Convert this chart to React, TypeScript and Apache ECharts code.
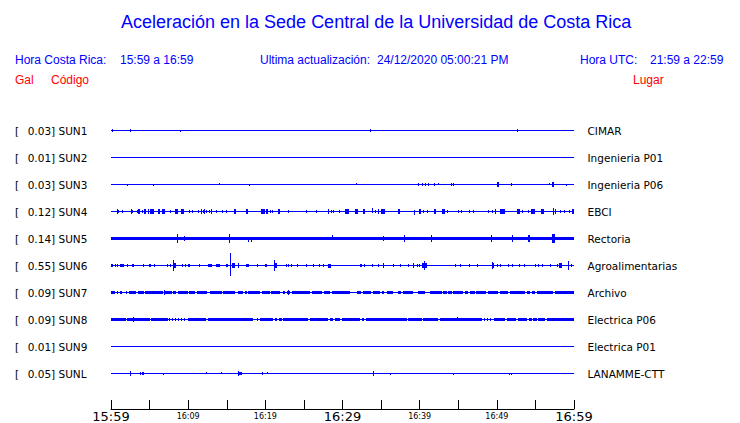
import React, { useEffect, useRef } from 'react';
import * as echarts from 'echarts';

// Stations (top to bottom)
const CODES = ['SUN1', 'SUN2', 'SUN3', 'SUN4', 'SUN5', 'SUN6', 'SUN7', 'SUN8', 'SUN9', 'SUNL'];
const MAX_GAL = ['0.03', '0.01', '0.03', '0.12', '0.14', '0.55', '0.09', '0.09', '0.01', '0.05'];
const PLACES = ['CIMAR', 'Ingenieria P01', 'Ingenieria P06', 'EBCI', 'Rectoria', 'Agroalimentarias', 'Archivo', 'Electrica P06', 'Electrica P01', 'LANAMME-CTT'];

// Time axis: minutes after 15:59
const TIME_MIN = 0;
const TIME_MAX = 60;
const TICK_STEP = 5;
const TICK_LABELS = ['15:59', '16:09', '16:19', '16:29', '16:39', '16:49', '16:59'];
const BIG_LABELS = ['15:59', '16:29', '16:59'];

// Events: [minute, duration(min), amplitude up, amplitude down] (amplitudes in trace spacings)
const SUN1_EVENTS = [[0.17, 0, 0.05, 0.05], [2.5, 0, 0.05, 0.05], [9.0, 0, 0, 0.04], [33.5, 0, 0.05, 0.05], [52.65, 0, 0.05, 0.05]];
const SUN2_EVENTS: number[][] = [];
const SUN3_EVENTS = [[2.1, 0, 0, 0.05], [5.5, 0, 0, 0.05], [14.0, 0, 0.05, 0], [17.9, 0, 0, 0.05], [31.7, 0, 0.05, 0], [39.8, 0, 0.05, 0.05], [40.3, 0, 0.05, 0.05], [40.7, 0, 0.05, 0.05], [41.1, 0, 0.05, 0.05], [41.8, 0, 0.05, 0.05], [42.4, 0, 0.05, 0], [44.0, 0, 0.05, 0.05], [44.3, 0, 0.05, 0.05], [50.0, 0.25, 0.06, 0.06], [51.8, 0, 0.05, 0.05], [56.7, 0, 0.05, 0], [57.2, 0.15, 0.06, 0.06], [59.0, 0, 0, 0.05]];
const SUN4_EVENTS = [[0.74, 0, 0.06, 0.06], [0.95, 0, 0.05, 0.05], [1.46, 0, 0.05, 0.05], [2.55, 0, 0.06, 0.06], [2.76, 0, 0.05, 0.05], [3.33, 0, 0.05, 0.05], [3.55, 0.2, 0.06, 0.06], [3.98, 0, 0.05, 0.05], [4.3, 0.25, 0.06, 0.06], [4.75, 0.2, 0.06, 0.06], [5.1, 0.45, 0.06, 0.06], [6.05, 0.3, 0.06, 0.06], [6.65, 0.35, 0.06, 0.06], [7.68, 0, 0.05, 0.05], [8.35, 0.3, 0.06, 0.06], [9.1, 0.3, 0.06, 0.06], [10.15, 0, 0.05, 0.05], [10.54, 0, 0.05, 0.05], [11.27, 0, 0.05, 0.05], [11.66, 0, 0.06, 0.06], [11.88, 0, 0.05, 0.05], [12.05, 0, 0.06, 0.06], [12.31, 0, 0.05, 0.05], [12.74, 0, 0.05, 0.05], [12.95, 0.2, 0.06, 0.06], [13.61, 0, 0.05, 0.05], [14.42, 0, 0.05, 0.05], [14.86, 0, 0.05, 0.05], [15.9, 0.35, 0.06, 0.06], [17.45, 0.3, 0.06, 0.06], [19.5, 0.45, 0.06, 0.06], [20.1, 0.2, 0.06, 0.06], [20.6, 0, 0.05, 0.05], [20.83, 0, 0.05, 0.05], [21.6, 0.35, 0.06, 0.06], [22.98, 0, 0.05, 0.05], [25.27, 0, 0.05, 0.05], [26.57, 0, 0.05, 0.05], [28.16, 0, 0.06, 0.06], [28.47, 0, 0.05, 0.05], [28.81, 0, 0.05, 0.05], [29.55, 0, 0.05, 0.05], [30.3, 0.5, 0.06, 0.06], [31.65, 0.35, 0.06, 0.06], [32.65, 0.3, 0.06, 0.06], [33.86, 0, 0.1, 0.05], [34.21, 0, 0.05, 0.05], [34.56, 0, 0.06, 0.06], [34.95, 0.55, 0.06, 0.06], [37.15, 0.35, 0.06, 0.06], [39.3, 0, 0.05, 0.1], [39.9, 0.3, 0.06, 0.06], [40.39, 0, 0.05, 0.05], [40.91, 0, 0.05, 0.05], [41.85, 0.3, 0.06, 0.06], [42.9, 0.35, 0.06, 0.06], [43.5, 0, 0.05, 0.05], [44.93, 0, 0.05, 0.05], [45.32, 0, 0.05, 0.05], [46.43, 0, 0.05, 0.05], [46.95, 0, 0.05, 0.05], [48.89, 0, 0.05, 0.05], [49.33, 0, 0.05, 0.05], [49.76, 0, 0.06, 0.06], [50.45, 0.55, 0.06, 0.06], [52.55, 0.45, 0.06, 0.06], [53.3, 0, 0.05, 0.05], [54.0, 0, 0.05, 0.05], [54.45, 0.55, 0.06, 0.06], [55.7, 0.35, 0.06, 0.06], [57.24, 0, 0.12, 0.12], [57.54, 0, 0.06, 0.06], [58.19, 0, 0.05, 0.05], [58.74, 0, 0.05, 0.05], [59.35, 0, 0.05, 0.05], [59.7, 0.3, 0.06, 0.06]];
const SUN5_EVENTS = [[8.59, 0, 0.13, 0.13], [9.46, 0, 0.08, 0.08], [15.33, 0, 0.13, 0.13], [17.79, 0, 0.05, 0.12], [18.14, 0, 0.05, 0.12], [28.6, 0, 0.11, 0.05], [35.29, 0, 0.09, 0.09], [38.0, 0, 0.12, 0.12], [41.45, 0.2, 0.12, 0.12], [49.28, 0, 0.1, 0.1], [51.92, 0, 0.12, 0.12], [54.1, 0.25, 0.12, 0.12], [57.2, 0.3, 0.15, 0.15]];
const SUN6_EVENTS = [[0, 0.22, 0.05, 0.05], [0.52, 0, 0.05, 0.05], [0.82, 0, 0.05, 0.05], [1.17, 0.5, 0.055, 0.055], [2.11, 0, 0.04, 0.04], [2.68, 0.3, 0.055, 0.055], [4.19, 0, 0.05, 0.05], [4.96, 0.18, 0.05, 0.05], [5.57, 0, 0.05, 0.05], [7.3, 0, 0.05, 0.05], [7.65, 0, 0.05, 0.05], [8.07, 0, 0.19, 0.19], [8.16, 0.26, 0.06, 0.06], [9.16, 0, 0.04, 0.04], [9.59, 0, 0.05, 0.05], [10.02, 0.26, 0.05, 0.05], [11.44, 0, 0.05, 0.05], [12.61, 0.52, 0.055, 0.055], [13.61, 0.56, 0.055, 0.055], [14.86, 0.26, 0.05, 0.05], [15.46, 0, 0.45, 0.38], [15.64, 0.43, 0.07, 0.07], [16.42, 0, 0.09, 0.09], [17.46, 0.47, 0.055, 0.055], [18.96, 0, 0.05, 0.05], [19.96, 0.22, 0.05, 0.05], [21.16, 0, 0.19, 0.19], [21.25, 0.3, 0.06, 0.06], [22.64, 0, 0.05, 0.05], [22.9, 0, 0.05, 0.05], [23.33, 0, 0.04, 0.04], [24.14, 0, 0.04, 0.04], [25.27, 0, 0.05, 0.05], [26.14, 0, 0.05, 0.05], [26.99, 0, 0.05, 0.05], [27.51, 0, 0.04, 0.04], [28.16, 0.31, 0.05, 0.09], [32.27, 0.22, 0.05, 0.05], [32.79, 0, 0.05, 0.05], [33.78, 0, 0.05, 0.05], [34.64, 0, 0.04, 0.04], [35.2, 0.2, 0.08, 0.08], [36.58, 0, 0.05, 0.05], [37.45, 0, 0.05, 0.05], [38.45, 0, 0.04, 0.04], [39.1, 0.15, 0.08, 0.08], [39.61, 0, 0.05, 0.05], [39.95, 0, 0.05, 0.05], [40.26, 0.65, 0.07, 0.07], [40.6, 0, 0.15, 0.15], [44.58, 0, 0.04, 0.04], [45.23, 0, 0.04, 0.04], [46.43, 0, 0.05, 0.05], [47.47, 0, 0.04, 0.04], [49.33, 0, 0.12, 0.12], [49.46, 0.17, 0.06, 0.06], [49.98, 0, 0.05, 0.05], [50.41, 0, 0.05, 0.05], [51.41, 0, 0.05, 0.05], [51.93, 0, 0.05, 0.05], [52.87, 0, 0.05, 0.05], [53.52, 0, 0.05, 0.05], [54.95, 0, 0.05, 0.05], [55.37, 0, 0.05, 0.05], [55.81, 0, 0.05, 0.05], [56.89, 0, 0.04, 0.04], [57.84, 0, 0.05, 0.05], [58.1, 0.3, 0.06, 0.06], [59.18, 0, 0.13, 0.13], [59.57, 0, 0.05, 0.05]];
const SUN7_EVENTS = [[1.9, 0, 0.045, 0.045], [6.83, 0, 0.09, 0.09], [22.98, 0, 0.09, 0.09]];
const SUN8_EVENTS = [[2.89, 0, 0.09, 0.09], [44.8, 0, 0.09, 0.045]];
const SUN9_EVENTS: number[][] = [];
const SUNL_EVENTS = [[2.46, 0, 0.07, 0.07], [3.76, 0, 0.04, 0.04], [3.98, 0, 0.05, 0.05], [4.19, 0, 0.04, 0.04], [6.78, 0, 0, 0.04], [12.31, 0, 0.04, 0], [14.25, 0, 0.04, 0], [16.5, 0, 0.07, 0.07], [16.5, 0.44, 0.05, 0.05], [19.53, 0.15, 0.05, 0.05], [20.25, 0, 0.04, 0], [33.99, 0, 0.06, 0.06], [36.22, 0, 0, 0.04], [44.28, 0.1, 0, 0.05], [51.6, 0, 0, 0.04], [51.83, 0, 0, 0.04]];

// Continuous noise bands: [start minute, end minute]
const SUN5_BANDS = [[0, 60]];
const SUN7_BANDS = [[0, 0.52], [0.74, 0.95], [1.17, 1.39], [2.33, 3.24], [3.54, 4.28], [4.41, 6.7], [7.0, 7.87], [8.07, 8.38], [8.72, 9.94], [10.11, 10.89], [11.11, 12.4], [12.83, 14.35], [14.55, 16.07], [16.5, 17.14], [17.36, 17.58], [17.79, 19.31], [19.53, 20.6], [20.7, 21.9], [22.33, 22.55], [22.77, 23.2], [23.42, 25.79], [26.01, 27.4], [27.6, 28.4], [28.6, 30.97], [31.84, 32.4], [32.69, 33.69], [33.99, 34.86], [35.16, 35.42], [35.73, 36.58], [37.23, 37.58], [37.88, 39.17], [39.8, 40.69], [41.34, 42.85], [43.06, 43.5], [43.71, 44.15], [44.36, 45.66], [45.87, 46.3], [46.52, 47.17], [47.3, 48.6], [48.89, 50.19], [50.41, 51.49], [51.71, 53.65], [53.87, 54.3], [54.52, 54.95], [55.17, 57.32], [57.54, 60]];
const SUN8_BANDS = [[0, 1.9], [2.03, 2.89], [3.02, 5.05], [5.18, 7.35], [7.52, 7.62], [7.9, 8.0], [8.29, 8.39], [8.68, 8.78], [9.07, 9.17], [9.46, 9.56], [9.94, 12.31], [12.61, 18.44], [18.88, 19.09], [19.31, 21.03], [21.25, 21.55], [21.77, 22.12], [22.33, 25.57], [25.79, 28.16], [28.38, 28.81], [29.03, 29.68], [29.97, 32.27], [32.48, 32.82], [33.0, 38.32], [38.53, 40.26], [40.47, 42.41], [42.63, 44.8], [44.93, 48.04], [48.34, 48.44], [48.72, 48.82], [49.11, 49.21], [49.63, 51.06], [51.28, 52.48], [52.78, 53.87], [54.21, 54.52], [54.73, 55.17], [55.37, 56.24], [56.46, 60]];

const STATION_EVENTS = [SUN1_EVENTS, SUN2_EVENTS, SUN3_EVENTS, SUN4_EVENTS, SUN5_EVENTS, SUN6_EVENTS, SUN7_EVENTS, SUN8_EVENTS, SUN9_EVENTS, SUNL_EVENTS];
const STATION_BANDS: number[][][] = [[], [], [], [], SUN5_BANDS, [], SUN7_BANDS, SUN8_BANDS, [], []];
const BAND_AMP = [0, 0, 0, 0, 0.05, 0, 0.045, 0.045, 0, 0];

const BLUE = '#0000ff';
const RED = '#ff0000';
const SANS = 'Liberation Sans, Arial, sans-serif';
const DJ = 'DejaVu Sans, sans-serif';

function buildItems() {
  const items: number[][] = [];
  CODES.forEach((_, i) => {
    items.push([TIME_MIN, TIME_MAX - TIME_MIN, i, 0, 0]);
    STATION_BANDS[i].forEach(([s, e]) => items.push([s, e - s, i, BAND_AMP[i], BAND_AMP[i]]));
    STATION_EVENTS[i].forEach(([t, d, up, dn]) => items.push([t, d, i, up, dn]));
  });
  return items;
}

function renderItem(_params: any, api: any) {
  const t = api.value(0);
  const d = api.value(1);
  const i = api.value(2);
  const up = api.value(3);
  const dn = api.value(4);
  const pA = api.coord([t, i - up]);
  const pB = api.coord([Math.min(TIME_MAX, t + d), i + dn]);
  const x0 = Math.round(pA[0]);
  const x1 = Math.max(x0 + 1, Math.round(pB[0]));
  const y0 = Math.round(pA[1] - 0.5);
  const y1 = Math.max(y0 + 1, Math.round(pB[1] + 0.5));
  return {
    type: 'rect',
    shape: { x: x0, y: y0, width: x1 - x0, height: y1 - y0 },
    style: { fill: BLUE },
  };
}

function txt(x: number, y: number, text: string, color: string, size: number) {
  return {
    type: 'text',
    x,
    y,
    style: { text, fill: color, font: `${size}px ${SANS}`, textAlign: 'left', textVerticalAlign: 'middle' },
  };
}

export default function App() {
  const ref = useRef<HTMLDivElement>(null);
  useEffect(() => {
    const chart = echarts.init(ref.current!, null, { renderer: 'svg' });
    const option: any = {
      animation: false,
      backgroundColor: '#ffffff',
      grid: { left: 111, right: 166, top: 117, height: 270 },
      xAxis: {
        type: 'value',
        position: 'bottom',
        min: TIME_MIN,
        max: TIME_MAX,
        interval: TICK_STEP,
        offset: 22,
        axisLine: { show: true, onZero: false, lineStyle: { color: '#000', width: 1 } },
        axisTick: { show: true, inside: true, length: 9, lineStyle: { color: '#000', width: 1 } },
        splitLine: { show: false },
        axisLabel: {
          margin: 0,
          formatter: (v: number) => {
            if (v % 10 !== 0) return '';
            const lab = TICK_LABELS[Math.round(v / 10)];
            return BIG_LABELS.includes(lab) ? `{big|${lab}}` : `{small|${lab}}`;
          },
          rich: {
            big: { fontSize: 13, fontFamily: DJ, color: '#000', lineHeight: 14, verticalAlign: 'middle' },
            small: { fontSize: 8, fontFamily: DJ, color: '#000', lineHeight: 14, verticalAlign: 'middle' },
          },
        },
      },
      yAxis: [
        { type: 'value', min: -0.5, max: 9.5, inverse: true, show: false },
        {
          type: 'category',
          data: CODES,
          inverse: true,
          position: 'left',
          axisLine: { show: false },
          axisTick: { show: false },
          splitLine: { show: false },
          axisLabel: {
            interval: 0,
            margin: 96,
            align: 'left',
            formatter: (v: string, idx: number) => `{b|[}{v|${MAX_GAL[idx]}] ${v}}`,
            rich: {
              b: { width: 12.7, fontSize: 10.5, fontFamily: DJ, color: '#000' },
              v: { fontSize: 10.5, fontFamily: DJ, color: '#000' },
            },
          },
        },
        {
          type: 'category',
          data: PLACES,
          inverse: true,
          position: 'right',
          axisLine: { show: false },
          axisTick: { show: false },
          splitLine: { show: false },
          axisLabel: { interval: 0, margin: 13.5, align: 'left', fontSize: 10.5, fontFamily: DJ, color: '#000' },
        },
      ],
      series: [
        {
          type: 'custom',
          xAxisIndex: 0,
          yAxisIndex: 0,
          silent: true,
          data: buildItems(),
          encode: { x: 0, y: 2 },
          renderItem,
        },
      ],
      graphic: [
        txt(121, 22, 'Aceleración en la Sede Central de la Universidad de Costa Rica', BLUE, 18),
        txt(15, 60, 'Hora Costa Rica:', BLUE, 12),
        txt(120, 60, '15:59 a 16:59', BLUE, 12),
        txt(260, 60, 'Ultima actualización:', BLUE, 12),
        txt(377, 60, '24/12/2020 05:00:21 PM', BLUE, 12),
        txt(580, 60, 'Hora UTC:', BLUE, 12),
        txt(650, 60, '21:59 a 22:59', BLUE, 12),
        txt(15, 80, 'Gal', RED, 12),
        txt(51, 80, 'Código', RED, 12),
        txt(633, 80, 'Lugar', RED, 12),
      ],
    };
    chart.setOption(option);
    return () => chart.dispose();
  }, []);
  return (
    <div
      ref={ref}
      style={{ position: 'fixed', left: 0, top: 0, width: 740, height: 423, background: '#fff' }}
    />
  );
}
